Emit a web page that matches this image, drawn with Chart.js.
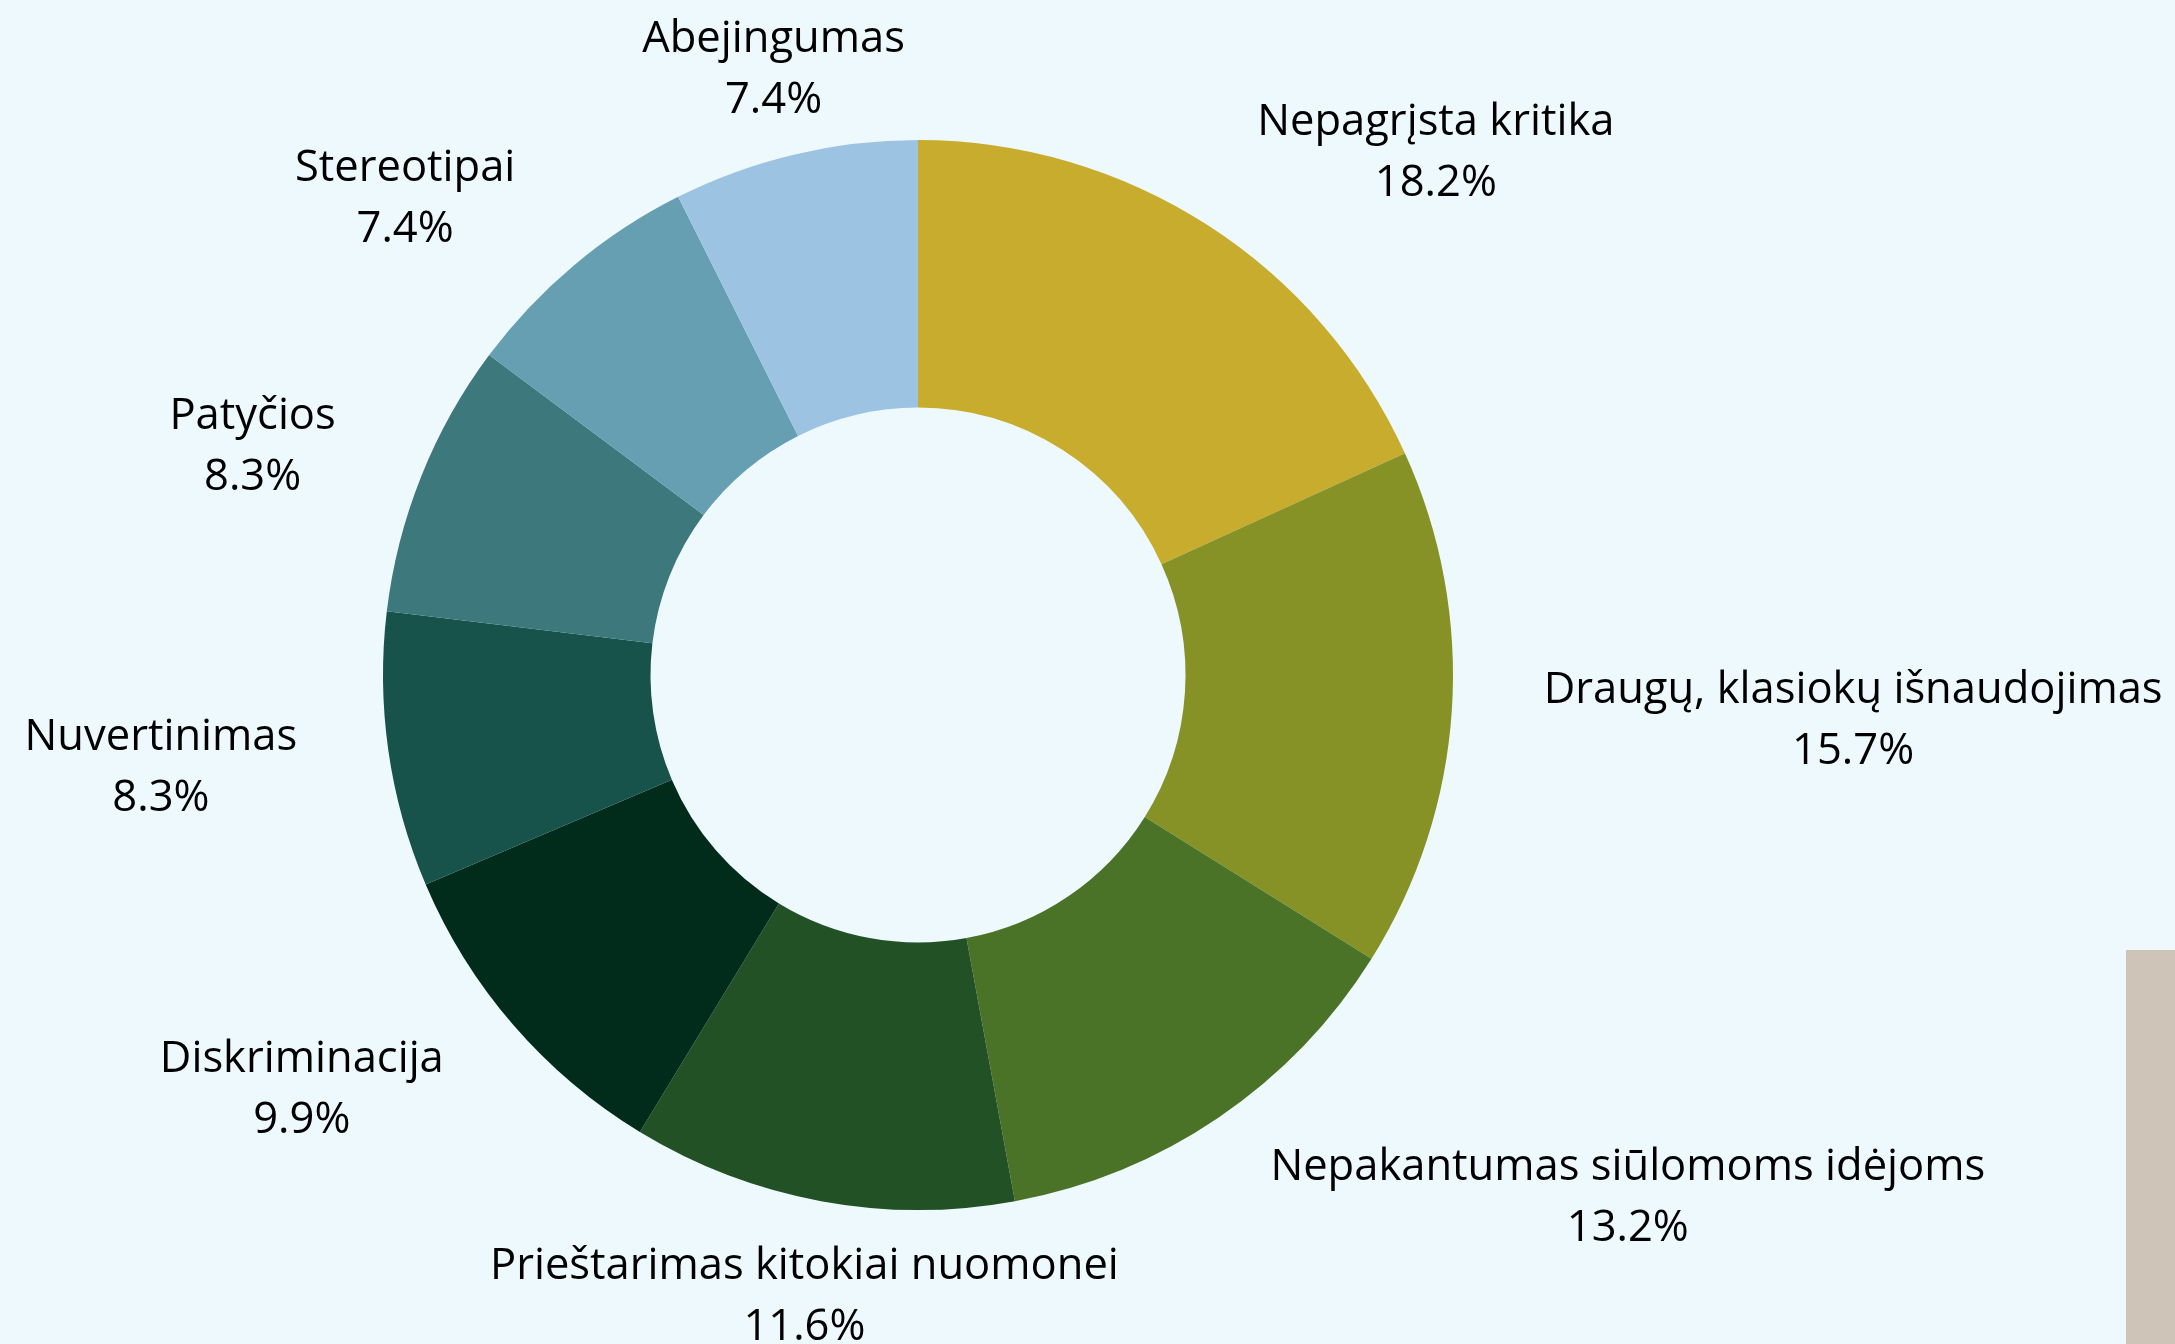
<!DOCTYPE html>
<html lang="lt">
<head>
<meta charset="utf-8">
<title>Doughnut</title>
<script src="https://cdn.jsdelivr.net/npm/chart.js@4/dist/chart.umd.min.js"></script>
<style>
  html, body { margin: 0; padding: 0; background: #EEF9FE; overflow: hidden; }
  #wrap { position: relative; width: 2175px; height: 1344px; }
  #deco { position: absolute; left: 2126px; top: 950px; width: 49px; height: 394px; background: #CFC4B8; }
  canvas { position: absolute; left: 0; top: 0; }
</style>
</head>
<body>
<div id="wrap">
  <div id="deco"></div>
  <canvas id="c" width="2175" height="1344"></canvas>
</div>
<script>
const categories = [
  "Nepagrįsta kritika",
  "Draugų, klasiokų išnaudojimas",
  "Nepakantumas siūlomoms idėjoms",
  "Prieštarimas kitokiai nuomonei",
  "Diskriminacija",
  "Nuvertinimas",
  "Patyčios",
  "Stereotipai",
  "Abejingumas"
];
const percentValues = [18.2, 15.7, 13.2, 11.6, 9.9, 8.3, 8.3, 7.4, 7.4];
const sliceColors = [
  "#C8AC2E", "#869226", "#4B7327", "#215125", "#012C1C",
  "#17524B", "#3C787C", "#659FB1", "#9DC3E2"
];

const outsideLabels = {
  id: 'outsideLabels',
  afterDatasetsDraw(chart) {
    const ctx = chart.ctx;
    const meta = chart.getDatasetMeta(0);
    const offset = 92;
    const lineGap = 61;
    const baselineShift = 5;
    ctx.save();
    ctx.font = '43.5px "Open Sans", "Noto Sans", sans-serif';
    ctx.fillStyle = '#000000';
    ctx.textBaseline = 'middle';
    ctx.textAlign = 'center';
    meta.data.forEach((arc, i) => {
      const p = arc.getProps(['x', 'y', 'startAngle', 'endAngle', 'outerRadius'], true);
      const mid = (p.startAngle + p.endAngle) / 2;
      const vx = Math.cos(mid), vy = Math.sin(mid);
      const ax = p.x + (p.outerRadius + offset) * vx;
      const ay = p.y + (p.outerRadius + offset) * vy;
      const lines = [categories[i], percentValues[i].toFixed(1) + '%'];
      const w = Math.max(...lines.map(t => ctx.measureText(t).width));
      let cx = ax;
      if (Math.abs(vx) >= 0.3) cx = vx > 0 ? ax + w / 2 : ax - w / 2;
      const y0 = ay - lineGap * (lines.length - 1) / 2 + baselineShift;
      lines.forEach((t, k) => ctx.fillText(t, cx, y0 + k * lineGap));
    });
    ctx.restore();
  }
};

new Chart(document.getElementById('c'), {
  type: 'doughnut',
  data: {
    labels: categories,
    datasets: [{
      data: percentValues,
      backgroundColor: sliceColors,
      borderWidth: 0,
      hoverOffset: 0
    }]
  },
  options: {
    responsive: false,
    animation: false,
    cutout: '50%',
    layout: { padding: { left: 383, right: 722, top: 140, bottom: 134 } },
    plugins: {
      legend: { display: false },
      tooltip: { enabled: false }
    }
  },
  plugins: [outsideLabels]
});
</script>
</body>
</html>
